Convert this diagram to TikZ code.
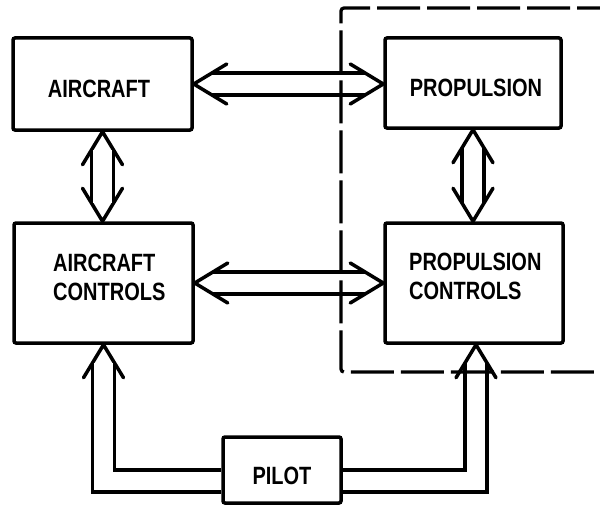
\documentclass[tikz,border=0pt]{standalone}
\usepackage{fontspec}
\setmainfont{Liberation Sans}[FakeStretch=0.8]
\usetikzlibrary{calc}
\pgfdeclarelayer{bg}
\pgfdeclarelayer{paper}
\pgfsetlayers{paper,bg,main}
\newcommand\tipat[2]{%
  \draw[wing] ($(#1)+(#2+180-31.2:38.6)$) -- (#1) -- ($(#1)+(#2+180+31.2:38.6)$);}
\begin{document}
\begin{tikzpicture}[x=1pt,y=-1pt,
  box/.style={draw, line width=3.5pt, rounded corners=2pt, inner sep=0pt},
  lbl/.style={font=\fontsize{25}{29}\selectfont\bfseries, inner sep=0pt, align=left},
  wing/.style={line width=3.5pt, line join=round, line cap=round},
  shaft/.style={line width=3.3pt, double, double distance=18.7pt, line join=miter},
  bound/.style={line width=3.3pt, dash pattern=on 43pt off 7pt, rounded corners=3pt}]
\begin{pgfonlayer}{paper}
\fill[white] (0,0) rectangle (600,527);
\end{pgfonlayer}
\useasboundingbox (0,0) rectangle (600,527);

\node[box, minimum width=179pt, minimum height=92pt] (air) at (102.5,84) {};
\node[box, minimum width=176pt, minimum height=90pt] (prop) at (473,83) {};
\node[box, minimum width=179pt, minimum height=120pt] (ac) at (103.5,283) {};
\node[box, minimum width=178pt, minimum height=120pt] (pc) at (474,283) {};
\node[box, minimum width=118pt, minimum height=66pt] (pilot) at (282,470) {};

\node[lbl] (airT) at (99,89) {AIRCRAFT};
\node[lbl] (propT) at (476,87.5) {PROPULSION};
\node[lbl, anchor=west] (acT) at (53,277) {AIRCRAFT\\CONTROLS};
\node[lbl, anchor=west] (pcT) at (409,276) {PROPULSION\\CONTROLS};
\node[lbl] (pilotT) at (282,476) {PILOT};

\begin{pgfonlayer}{bg}
  % aircraft <-> propulsion
  \tipat{air.east}{180}
  \tipat{air.east -| prop.west}{0}
  \draw[shaft] ($(air.east)+(18,0)$) -- ($(air.east -| prop.west)+(-18,0)$);
  % aircraft controls <-> propulsion controls
  \tipat{ac.east}{180}
  \tipat{pc.west}{0}
  \draw[shaft] ($(ac.east)+(18,0)$) -- ($(pc.west)+(-18,0)$);
  % aircraft <-> aircraft controls
  \tipat{air.south}{270}
  \tipat{air.south |- ac.north}{90}
  \draw[shaft] ($(air.south)+(0,18)$) -- ($(air.south |- ac.north)+(0,-18)$);
  % propulsion <-> propulsion controls
  \tipat{prop.south}{270}
  \tipat{prop.south |- pc.north}{90}
  \draw[shaft] ($(prop.south)+(0,18)$) -- ($(prop.south |- pc.north)+(0,-18)$);
  % pilot -> aircraft controls
  \tipat{ac.south}{270}
  \draw[shaft] ($(pilot.west)+(0,11)$) -| ($(ac.south)+(0,18)$);
  % pilot -> propulsion controls
  \coordinate (pcin) at ($(pc.south)+(2,0)$);
  \tipat{pcin}{270}
  \draw[shaft] ($(pilot.east)+(0,11)$) -| ($(pcin)+(0,18)$);
\end{pgfonlayer}

\draw[bound] (620,8) -- (341,8) -- (341,372) -- (620,372);
\end{tikzpicture}
\end{document}
